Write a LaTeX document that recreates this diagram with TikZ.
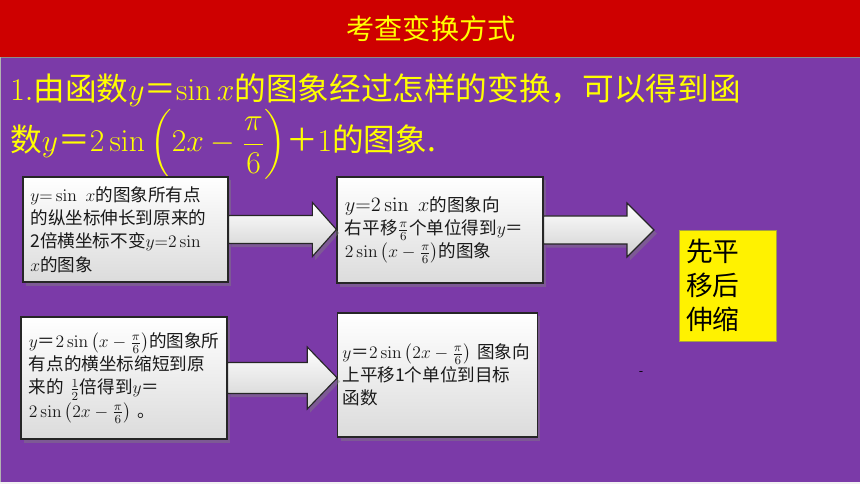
\RequirePackage{fix-cm}
\documentclass[tikz,border=0pt]{standalone}
\usepackage{amsmath}
\usepackage[no-math]{fontspec}
\setmainfont{Noto Sans CJK SC}
\usetikzlibrary{calc,shadows}
\definecolor{headred}{RGB}{206,0,0}
\definecolor{bgpurple}{RGB}{123,58,168}
\definecolor{txtyellow}{RGB}{255,255,0}

\begin{document}
\begin{tikzpicture}[x=0.025cm,y=-0.025cm]

\tikzstyle{card}=[rectangle,draw=black!85,line width=0.8pt,top color=white,bottom color=black!14,drop shadow={opacity=0.45,shadow xshift=2pt,shadow yshift=-2.5pt},text=black!90,align=left,text width=4.75cm,font=\fontsize{12.5}{16.5}\selectfont]
\tikzstyle{bigarrow}=[draw=black!85,line width=0.8pt,top color=white,bottom color=black!18,drop shadow={opacity=0.45,shadow xshift=2pt,shadow yshift=-2.5pt}]
\tikzstyle{head}=[text=txtyellow,font=\fontsize{22.5}{26}\selectfont,anchor=base west,inner sep=0pt]

\useasboundingbox (0,0) rectangle (860,484);
\fill[bgpurple] (0,57) rectangle (860,482);
\fill[headred] (0,0) rectangle (860,57);
\draw[black!45,line width=0.5pt] (0,57) -- (860,57);
\fill[black!5] (0,482) rectangle (860,484);
\fill[black!30] (0,57) rectangle (1,482);

\node[text=txtyellow,font=\fontsize{20}{24}\selectfont] (title) at (431,29) {考查变换方式} ;

\node[head] (q1) at (10,101) {$1.$由函数$y$＝$\sin x$的图象经过怎样的变换，可以得到函} ;
\node[head] (q2) at (10,152) {数$y$＝$2\sin\left(2x-\dfrac{\pi}{6}\right)$＋$1$的图象.} ;

\node[card,minimum width=5.125cm,minimum height=2.625cm] (boxA) at (125.5,229.5)
  {$y{=}\sin\ x$的图象所有点\\的纵坐标伸长到原来的\\2倍横坐标不变$y{=}2\sin$\\$x$的图象} ;
\node[card,minimum width=5.15cm,minimum height=2.65cm] (boxB) at (440,230)
  {{\fontsize{14.5}{16}\selectfont$y{=}2\sin\ x$}的图象向\\右平移$\frac{\pi}{6}$个单位得到$y$＝\\$2\sin\left(x-\frac{\pi}{6}\right)$的图象} ;
\node[card,minimum width=5.15cm,minimum height=3.05cm] (boxC) at (124,378)
  {$y$＝$2\sin\left(x-\frac{\pi}{6}\right)$的图象所\\有点的横坐标缩短到原\\来的 $\frac{1}{2}$倍得到$y$＝\\$2\sin\left(2x-\frac{\pi}{6}\right)$ 。} ;
\node[card,minimum width=4.975cm,minimum height=3.1cm] (boxD) at (437.5,375)
  {$y$＝$2\sin\left(2x-\frac{\pi}{6}\right)$ 图象向\\上平移1个单位到目标\\函数} ;

\node[draw=yellow!60!black,line width=0.6pt,fill=yellow,minimum width=2.425cm,minimum height=2.775cm,text width=2.07cm,inner xsep=5pt,align=left,font=\fontsize{19}{24}\selectfont] (note) at (727.5,285.5) {先平\\移后\\伸缩} ;

\node[font=\fontsize{9}{9}\selectfont,inner sep=0pt] (tick) at (641,374) {-} ;

\coordinate (tipA) at (boxA.east -| boxB.west) ;
\coordinate (tipB) at (654,230) ;
\coordinate (tipC) at (boxC.east -| boxD.west) ;

\draw[bigarrow] ($(boxA.east)+(0,-14)$) -- ($(tipA)+(-24,-14)$) -- ($(tipA)+(-24,-27)$) -- (tipA)
  -- ($(tipA)+(-24,27)$) -- ($(tipA)+(-24,14)$) -- ($(boxA.east)+(0,14)$) -- cycle ;
\draw[bigarrow] ($(boxB.east)+(0,-14)$) -- ($(tipB)+(-27,-14)$) -- ($(tipB)+(-27,-27)$) -- (tipB)
  -- ($(tipB)+(-27,27)$) -- ($(tipB)+(-27,14)$) -- ($(boxB.east)+(0,14)$) -- cycle ;
\draw[bigarrow] ($(boxC.east)+(0,-15.5)$) -- ($(tipC)+(-30,-15.5)$) -- ($(tipC)+(-30,-31)$) -- (tipC)
  -- ($(tipC)+(-30,31)$) -- ($(tipC)+(-30,15.5)$) -- ($(boxC.east)+(0,15.5)$) -- cycle ;

\end{tikzpicture}
\end{document}
